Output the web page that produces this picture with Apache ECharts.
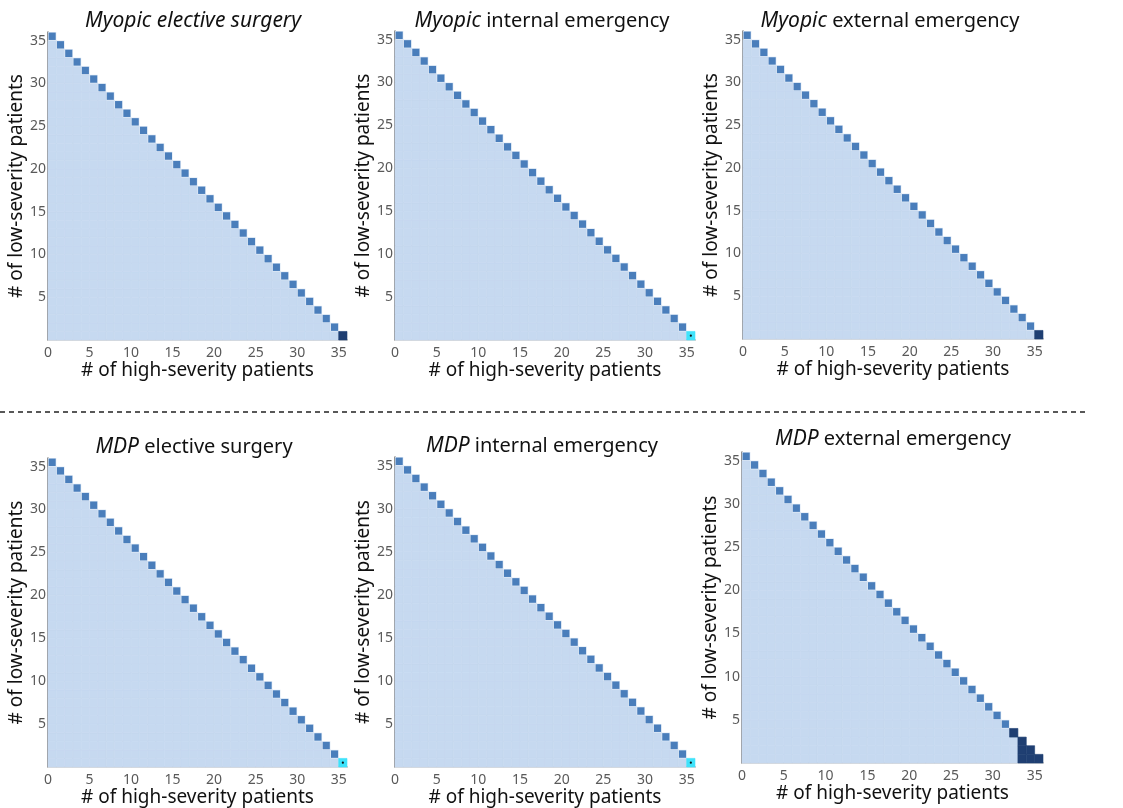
<!DOCTYPE html>
<html>
<head>
<meta charset="utf-8">
<script src="https://cdn.jsdelivr.net/npm/echarts@6/dist/echarts.min.js"></script>
<style>
  html, body { margin: 0; padding: 0; background: #fff; }
  #main { width: 1123px; height: 808px; }
</style>
</head>
<body>
<div id="main"></div>
<script>
// # of high-severity patients (x) and top filled # of low-severity patients per column
var highCounts = [0, 1, 2, 3, 4, 5, 6, 7, 8, 9, 10, 11, 12, 13, 14, 15, 16, 17,
    18, 19, 20, 21, 22, 23, 24, 25, 26, 27, 28, 29, 30, 31, 32, 33, 34, 35];
var lowMax = [35, 34, 33, 32, 31, 30, 29, 28, 27, 26, 25, 24, 23, 22, 21, 20, 19, 18,
    17, 16, 15, 14, 13, 12, 11, 10, 9, 8, 7, 6, 5, 4, 3, 2, 1, 0];

// 0 = light (inside), 1 = full-capacity cell, 2 = dark, 3 = cyan (marked)
var myopicElective = [[35, 0, 2]];
var myopicInternal = [[35, 0, 3]];
var myopicExternal = [[35, 0, 2]];
var mdpElective = [[35, 0, 3]];
var mdpInternal = [[35, 0, 3]];
var mdpExternal = [[32, 3, 2], [33, 0, 2], [33, 1, 2], [33, 2, 2], [34, 0, 2], [34, 1, 2], [35, 0, 2]];

var xTicks = [0, 5, 10, 15, 20, 25, 30, 35];
var yTicks = [5, 10, 15, 20, 25, 30, 35];

var panels = [
    { italic: 'Myopic elective surgery', rest: '', cells: myopicElective, grid: [48, 32, 299, 308], title: [188, 6], rightLine: true },
    { italic: 'Myopic', rest: ' internal emergency', cells: myopicInternal, grid: [395, 31, 300, 309], title: [537, 6], rightLine: false },
    { italic: 'Myopic', rest: ' external emergency', cells: myopicExternal, grid: [743, 31, 300, 308], title: [885, 6], rightLine: false },
    { italic: 'MDP', rest: ' elective surgery', cells: mdpElective, grid: [48, 458, 299, 309], title: [189, 432], rightLine: true },
    { italic: 'MDP', rest: ' internal emergency', cells: mdpInternal, grid: [395, 457, 300, 310], title: [537, 431], rightLine: false },
    { italic: 'MDP', rest: ' external emergency', cells: mdpExternal, grid: [742, 452, 301, 311], title: [888, 424], rightLine: true }
];

var colors = ['#c6d9f0', '#4a7ebb', '#1f3f72', '#3fe3fb'];
var fontFamily = '"Noto Sans", "Open Sans", sans-serif';

// 构建每个面板的格子数据
function buildCells(overrides) {
    var data = [];
    highCounts.forEach(function (h, i) {
        for (var l = 0; l <= lowMax[i]; l++) {
            var code = l === lowMax[i] ? 1 : 0;
            overrides.forEach(function (o) {
                if (o[0] === h && o[1] === l) code = o[2];
            });
            data.push([h, l, code]);
        }
    });
    return data;
}

function renderCell(params, api) {
    var h = api.value(0), l = api.value(1), code = api.value(2);
    var p0 = api.coord([h, l + 1]);
    var p1 = api.coord([h + 1, l]);
    var w = p1[0] - p0[0], hgt = p1[1] - p0[1];
    if (code === 0) {
        return {
            type: 'rect',
            shape: { x: p0[0], y: p0[1], width: w, height: hgt },
            style: { fill: colors[0], stroke: colors[0], lineWidth: 0.6 }
        };
    }
    if (code === 1) {
        return {
            type: 'group',
            children: [{
                type: 'rect',
                shape: { x: p0[0], y: p0[1], width: w, height: hgt },
                style: { fill: '#dbe7f5' }
            }, {
                type: 'rect',
                shape: { x: p0[0] + 0.6, y: p0[1] + 0.6, width: w - 1.2, height: hgt - 1.2 },
                style: { fill: colors[1] }
            }]
        };
    }
    var children = [{
        type: 'rect',
        shape: { x: p0[0], y: p0[1], width: w, height: hgt },
        style: { fill: colors[code], stroke: colors[code], lineWidth: 0.6 }
    }];
    if (code === 3) {
        children.push({
            type: 'circle',
            shape: { cx: p0[0] + w / 2, cy: p0[1] + hgt / 2, r: 1.1 },
            style: { fill: '#111' }
        });
    }
    return { type: 'group', children: children };
}

var option = {
    animation: false,
    backgroundColor: '#fff',
    title: [],
    grid: [],
    xAxis: [],
    yAxis: [],
    series: [],
    graphic: [{
        type: 'line',
        shape: { x1: 0, y1: 412, x2: 1085, y2: 412 },
        style: { stroke: '#222', lineWidth: 1.3, lineDash: [5, 4] }
    }]
};

panels.forEach(function (p, k) {
    option.title.push({
        text: '{i|' + p.italic + '}' + p.rest,
        left: p.title[0],
        top: p.title[1],
        textAlign: 'center',
        textStyle: {
            fontFamily: fontFamily, fontSize: 20, fontWeight: 'normal', color: '#111',
            rich: { i: { fontFamily: fontFamily, fontSize: 21, fontStyle: 'italic', color: '#111' } }
        }
    });
    option.grid.push({
        left: p.grid[0], top: p.grid[1], width: p.grid[2], height: p.grid[3],
        show: false
    });
    // 底部x轴
    option.xAxis.push({
        type: 'value', gridIndex: k, min: 0, max: 36, interval: 5,
        name: '# of high-severity patients', nameLocation: 'middle', nameGap: 20,
        nameTextStyle: { fontFamily: fontFamily, fontSize: 19, color: '#111' },
        axisLine: { show: true, lineStyle: { color: '#8a8a8a', width: 1.5 } },
        axisTick: { show: false },
        splitLine: { show: false },
        axisLabel: {
            fontFamily: fontFamily, fontSize: 14, color: '#595959', margin: 6,
            formatter: function (v) { return xTicks.indexOf(v) >= 0 ? String(v) : ''; }
        }
    });
    // 顶部边框
    option.xAxis.push({
        type: 'value', gridIndex: k, min: 0, max: 36, position: 'top',
        axisLine: { show: true, lineStyle: { color: '#d9d9d9', width: 1 } },
        axisTick: { show: false }, axisLabel: { show: false }, splitLine: { show: false }
    });
    option.yAxis.push({
        type: 'value', gridIndex: k, min: 0, max: 36, interval: 5,
        name: '# of low-severity patients', nameLocation: 'middle', nameGap: 17,
        nameTextStyle: { fontFamily: fontFamily, fontSize: 19, color: '#111' },
        axisLine: { show: true, lineStyle: { color: '#6e6e6e', width: 1.5 } },
        axisTick: { show: false },
        splitLine: { show: false },
        axisLabel: {
            fontFamily: fontFamily, fontSize: 14, color: '#595959', margin: 2,
            formatter: function (v) { return yTicks.indexOf(v) >= 0 ? String(v) : ''; }
        }
    });
    option.yAxis.push({
        type: 'value', gridIndex: k, min: 0, max: 36, position: 'right',
        axisLine: { show: p.rightLine, lineStyle: { color: '#d9d9d9', width: 1 } },
        axisTick: { show: false }, axisLabel: { show: false }, splitLine: { show: false }
    });
    option.series.push({
        type: 'custom',
        xAxisIndex: 2 * k,
        yAxisIndex: 2 * k,
        renderItem: renderCell,
        data: buildCells(p.cells),
        z: 1
    });
});

var chart = echarts.init(document.getElementById('main'), null, { renderer: 'canvas' });
chart.setOption(option);
</script>
</body>
</html>
